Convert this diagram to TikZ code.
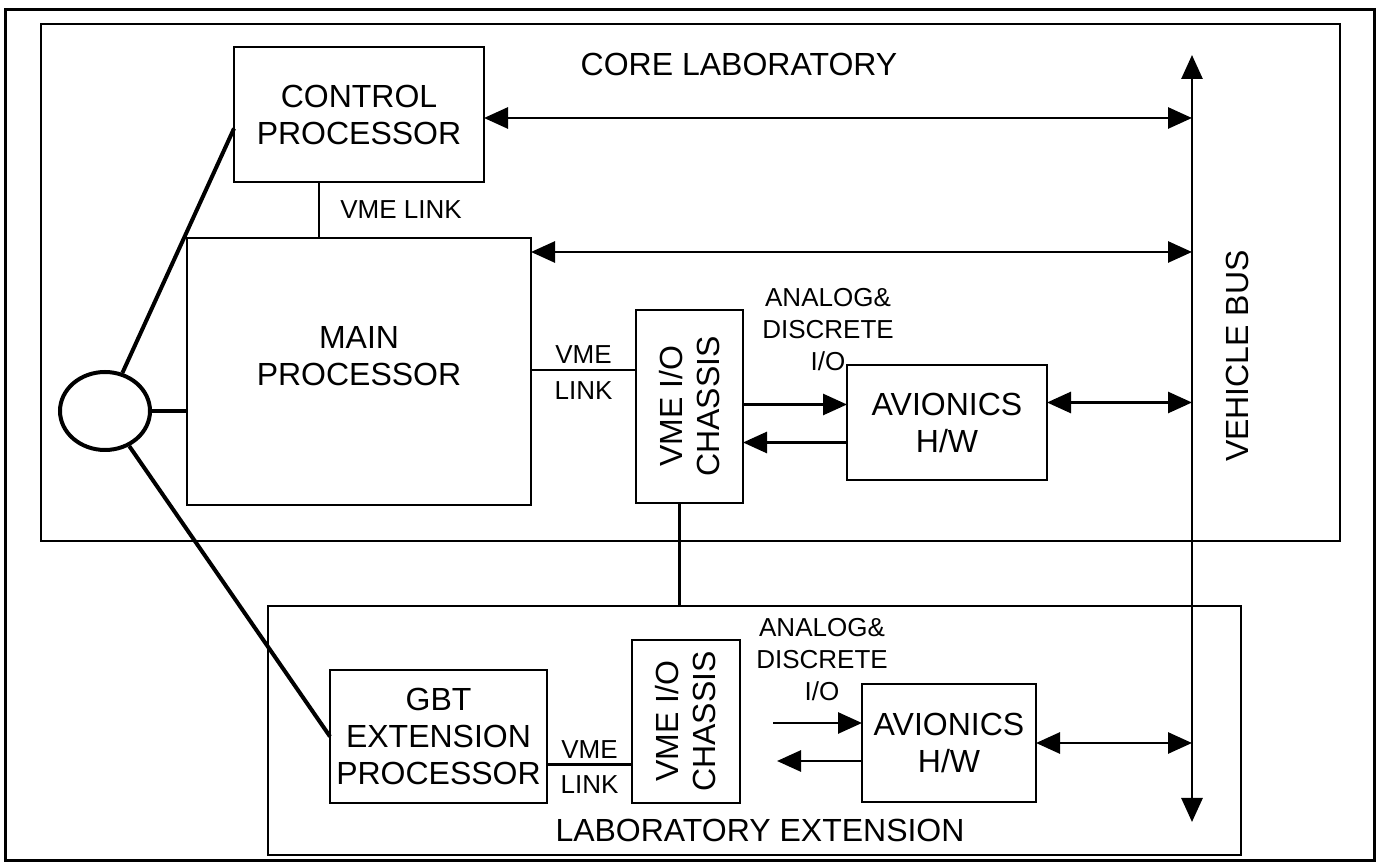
\documentclass[tikz,border=0pt]{standalone}
\usepackage{fontspec}
\setmainfont{Liberation Sans}
\usepackage{tikz}
\usetikzlibrary{arrows.meta,positioning,shapes.geometric,calc}

\begin{document}
\begin{tikzpicture}[x=0.5pt, y=-0.5pt, >={Triangle[length=12pt,width=10.5pt]}, line width=1.4pt,
    font=\fontsize{16}{18.5}\selectfont,
    box/.style={rectangle, draw, align=center, inner sep=0pt, outer sep=0pt},
    small/.style={font=\fontsize{13}{16}\selectfont, inner sep=1pt},
    hubline/.style={line width=2pt}]
    \useasboundingbox (0,0) rectangle (1377,865);
    \draw[line width=1.5pt] (5,10) rectangle (1374,860);

    % Core laboratory
    \node[box, anchor=north west, minimum width=649.5pt, minimum height=258.5pt] (core) at (41,24) {};
    \node (corelab) at (739,64) {CORE LABORATORY};
    \node[box, anchor=north west, minimum width=172pt, minimum height=133.5pt,
          label={[align=center, yshift=7.5pt]center:MAIN\\PROCESSOR}] (mp) at (187,238) {};
    \node[box, above=28pt of mp, minimum width=125pt, minimum height=67.5pt] (cp) {CONTROL\\PROCESSOR};
    \node[box, right=52.5pt of mp.south east, anchor=south west, yshift=1pt,
          minimum width=53.5pt, minimum height=96.5pt] (vio1) {};
    \node[rotate=90, align=center] (vio1txt) at (vio1.center) {VME I/O\\CHASSIS};
    \node[box, minimum width=100pt, minimum height=57.5pt] (av1) at (947,422.5) {AVIONICS\\H/W};
    \node[small, align=center] (aio1) at (828,330) {ANALOG\&\\DISCRETE\\I/O};
    \node[ellipse, draw, hubline, minimum width=45pt, minimum height=39pt, inner sep=0pt] (hub) at (105,411) {};

    % Laboratory extension
    \node[box, anchor=north west, minimum width=486.5pt, minimum height=124.5pt] (ext) at (268,606) {};
    \node (extlab) at (760,830) {LABORATORY EXTENSION};
    \node[box, minimum width=108.5pt, minimum height=66.5pt] (gbt) at (438.5,736.5) {GBT\\EXTENSION\\PROCESSOR};
    \node[box, minimum width=54pt, minimum height=81.5pt] (vio2) at (686,721.5) {};
    \node[rotate=90, align=center] (vio2txt) at (vio2.center) {VME I/O\\CHASSIS};
    \node[box, minimum width=87pt, minimum height=59pt] (av2) at (949,743) {AVIONICS\\H/W};
    \node[small, align=center] (aio2) at (822,660) {ANALOG\&\\DISCRETE\\I/O};

    % Vehicle bus
    \coordinate (bustop) at (1192,55);
    \coordinate (busbot) at (1192,822);
    \draw[<->] (busbot) -- (bustop);
    \node[rotate=90] (buslab) at (1237,356) {VEHICLE BUS};

    % Links
    \draw[hubline] (hub) -- ([yshift=-7pt]cp.west);
    \draw[hubline] (hub.east) -- (hub.east -| mp.west);
    \draw[hubline] (hub) -- (gbt.west);
    \draw ([xshift=-20pt]cp.south) -- node[small, right=9pt] {VME LINK} ([xshift=-20pt]cp.south |- mp.north);
    \draw (mp.east |- 0,370) -- node[small, above=1.5pt] {VME} node[small, below=4pt] {LINK} (vio1.west |- 0,370);
    \draw ([xshift=-5pt]vio1.south) -- ([xshift=-5pt]vio1.south |- ext.north);
    \draw ([yshift=-14pt]gbt.east) -- node[small, above=1.5pt] {VME} node[small, below=4pt] {LINK} ([yshift=-14pt]gbt.east -| vio2.west);

    % Analog & discrete I/O
    \draw[->] ([yshift=9pt]av1.west -| vio1.east) -- ([yshift=9pt]av1.west);
    \draw[->] ([yshift=-10pt]av1.west) -- ([yshift=-10pt]av1.west -| vio1.east);
    \coordinate (in2) at (773,723);
    \coordinate (out2) at (777,761);
    \draw[->] (in2) -- (in2 -| av2.west);
    \draw[->] (out2 -| av2.west) -- (out2);

    % Bus connections
    \draw[<->] (cp.east |- 0,118) -- (bustop |- 0,118);
    \draw[<->] (mp.east |- 0,252) -- (bustop |- 0,252);
    \draw[<->] ([yshift=10pt]av1.east) -- ([yshift=10pt]av1.east -| bustop);
    \draw[<->] (av2.east) -- (av2.east -| bustop);
\end{tikzpicture}
\end{document}
